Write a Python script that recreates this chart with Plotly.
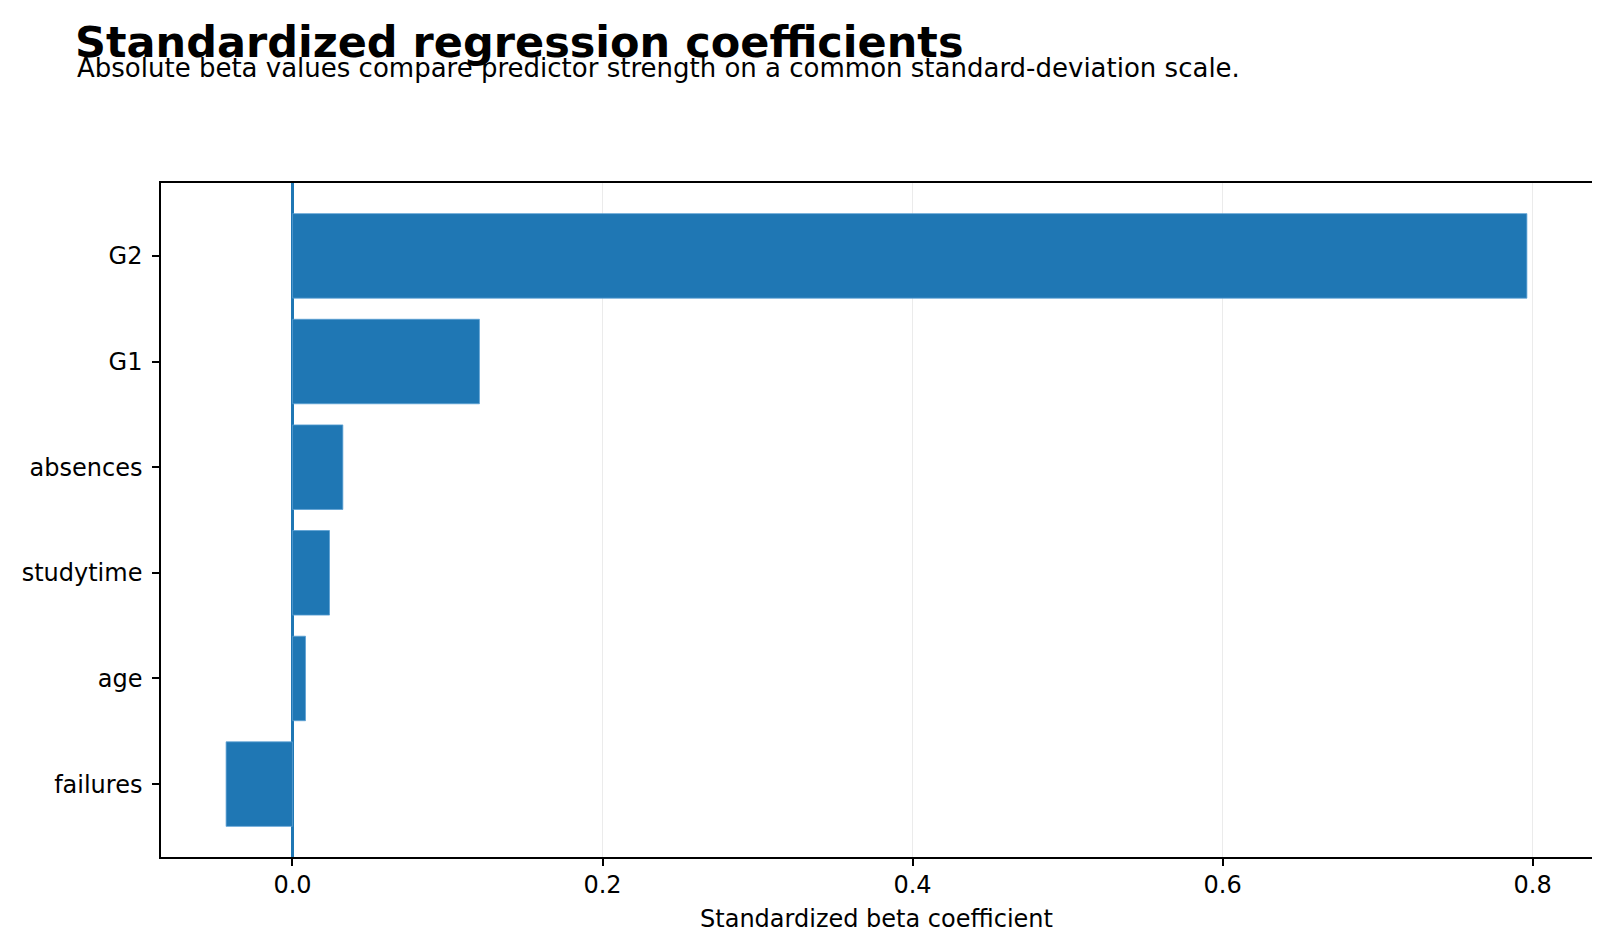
import plotly.graph_objects as go

# predictors, bottom to top as drawn
predictors = ['failures', 'age', 'studytime', 'absences', 'G1', 'G2']
beta_values = [-0.0428, 0.0084, 0.0239, 0.0325, 0.1206, 0.7963]
x_ticks = [0.0, 0.2, 0.4, 0.6, 0.8]

BLUE = '#1f77b4'
FONT = 'DejaVu Sans'

fig = go.Figure(go.Bar(
    x=beta_values,
    y=predictors,
    orientation='h',
    width=0.8,
    marker=dict(color=BLUE, line=dict(color='#5b9fd3', width=0.8)),
    hoverinfo='x+y',
))

fig.update_layout(
    width=1600,
    height=940,
    paper_bgcolor='#fff',
    plot_bgcolor='#fff',
    font=dict(family=FONT, size=24, color='#000'),
    margin=dict(l=153, r=16, t=175, b=91),
    showlegend=False,
    title=dict(
        text='<b>Standardized regression coefficients</b>',
        font=dict(family=FONT, size=43, color='#000'),
        xref='container', x=67 / 1600, xanchor='left',
        yref='container', y=1 - 34 / 940, yanchor='middle',
    ),
    annotations=[dict(
        text='Absolute beta values compare predictor strength on a common standard-deviation scale.',
        xref='paper', yref='paper',
        x=(67 - 153) / 1431, y=(849 - 60) / 674,
        xanchor='left', yanchor='middle',
        showarrow=False,
        font=dict(family=FONT, size=26, color='#000'),
    )],
)

fig.update_xaxes(
    range=[-0.0848, 0.8383],
    tickvals=x_ticks,
    tickformat='.1f',
    tickfont=dict(size=24),
    showgrid=True, gridcolor='#ebebeb', gridwidth=1,
    zeroline=True, zerolinecolor=BLUE, zerolinewidth=2.5,
    showline=True, linecolor='#000', linewidth=1.5, mirror=True,
    ticks='outside', ticklen=7, tickwidth=1.5, tickcolor='#000',
    ticklabelstandoff=-2,
    title=dict(text='Standardized beta coefficient', standoff=13,
               font=dict(family=FONT, size=24)),
)
fig.update_yaxes(
    range=[-0.69, 5.69],
    tickfont=dict(size=24),
    showgrid=False, zeroline=False,
    showline=True, linecolor='#000', linewidth=1.5, mirror=True,
    ticks='outside', ticklen=7, tickwidth=1.5, tickcolor='#000',
    ticklabelstandoff=5,
)

fig.write_html("out.html")
